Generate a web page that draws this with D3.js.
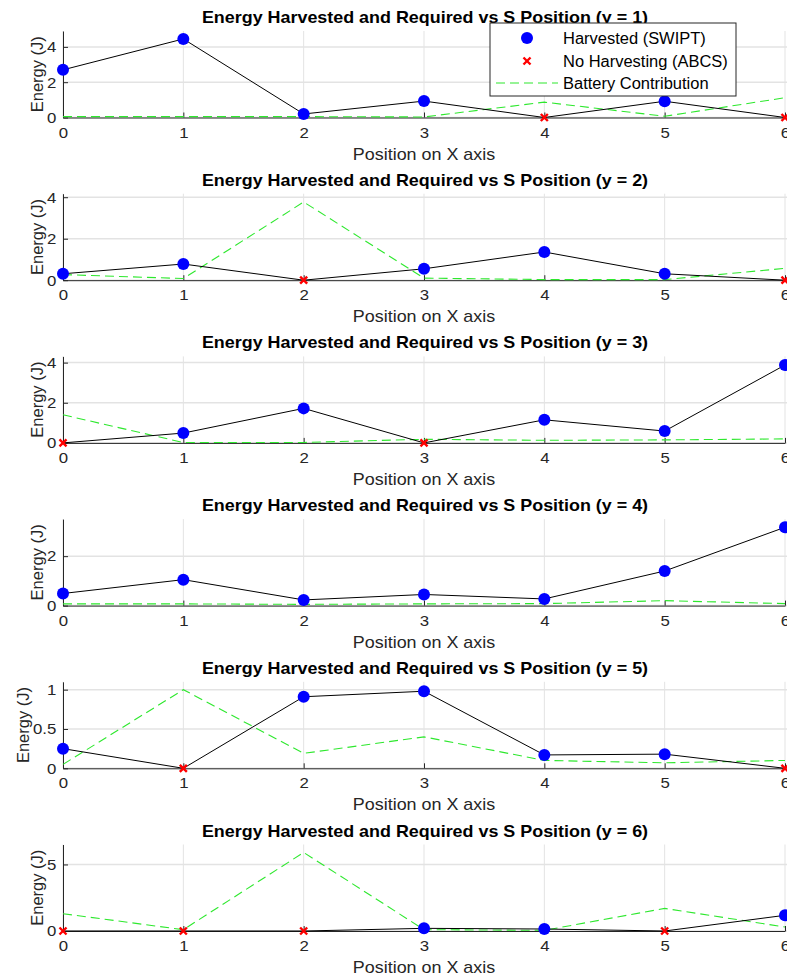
<!DOCTYPE html>
<html>
<head>
<meta charset="utf-8">
<script src="https://cdn.jsdelivr.net/npm/d3@7"></script>
<style>
  body { margin: 0; background: #fff; }
  svg { display: block; font-family: "Liberation Sans", Arial, sans-serif; }
</style>
</head>
<body>
<div id="chart"></div>
<script>
// x positions of the S node, one panel per y row
const xPositions = [0, 1, 2, 3, 4, 5, 6];
const rowLabels = [1, 2, 3, 4, 5, 6];

// energy harvested (SWIPT); a 0 means no harvesting (ABCS)
const harvested = [
  [2.7, 4.45, 0.2, 0.93, 0, 0.92, 0],
  [0.31, 0.78, 0, 0.55, 1.36, 0.31, 0],
  [0, 0.49, 1.72, 0, 1.15, 0.59, 3.88],
  [0.49, 1.05, 0.23, 0.45, 0.27, 1.4, 3.17],
  [0.25, 0, 0.91, 0.98, 0.17, 0.18, 0],
  [0, 0, 0, 0.2, 0.15, 0, 1.18]
];

// battery contribution
const battery = [
  [0.05, 0.05, 0.05, 0.03, 0.87, 0.07, 1.12],
  [0.27, 0.08, 3.77, 0.1, 0.03, 0.03, 0.57],
  [1.4, 0.02, 0.02, 0.18, 0.13, 0.15, 0.2],
  [0.07, 0.07, 0.05, 0.07, 0.08, 0.2, 0.08],
  [0.05, 1.0, 0.19, 0.4, 0.1, 0.07, 0.1],
  [1.3, 0.1, 5.9, 0.1, 0.05, 1.7, 0.3]
];

// y axis upper limits and tick labels per panel
const yMax = [4.9, 4.17, 4.31, 3.5, 1.1, 6.5];
const yTicks = [[0, 2, 4], [0, 2, 4], [0, 2, 4], [0, 2], [0, 0.5, 1], [0, 5]];

const legendLabels = ["Harvested (SWIPT)", "No Harvesting (ABCS)", "Battery Contribution"];

const W = 787, H = 975;
const left = 63, right = 785;
const firstTop = 31, step = 162.7, plotH = 86.5;
const textColor = "#262626";
const green = "#2ee82e";
const stretch = "scale(1.12,1)"; // horizontal text in the reference is a bit wide

const svg = d3.select("#chart").append("svg")
  .attr("width", W)
  .attr("height", H);

const x = d3.scaleLinear().domain([0, 6]).range([left, right]);
const cross = d3.symbol().type(d3.symbolX).size(34);

rowLabels.forEach((row, i) => {
  const top = firstTop + i * step;
  const bottom = top + plotH;
  const y = d3.scaleLinear().domain([0, yMax[i]]).range([bottom, top]);

  const g = svg.append("g").attr("class", "panel");

  // grid
  g.selectAll(".vgrid")
    .data(xPositions)
    .enter()
    .append("line")
    .attr("x1", d => x(d)).attr("x2", d => x(d))
    .attr("y1", top).attr("y2", bottom)
    .attr("stroke", "#e3e3e3").attr("stroke-width", 1);

  g.selectAll(".hgrid")
    .data(yTicks[i])
    .enter()
    .append("line")
    .attr("x1", left).attr("x2", W)
    .attr("y1", d => y(d)).attr("y2", d => y(d))
    .attr("stroke", "#e3e3e3").attr("stroke-width", 1.5);

  // axes
  const xAxis = g.append("g")
    .attr("transform", `translate(0,${bottom})`)
    .call(d3.axisBottom(x).tickValues(xPositions).tickFormat(d3.format("d")).tickSizeInner(-5).tickSizeOuter(0).tickPadding(9.5));
  const yAxis = g.append("g")
    .attr("transform", `translate(${left},0)`)
    .call(d3.axisLeft(y).tickValues(yTicks[i]).tickFormat(d => String(d)).tickSizeInner(-5).tickSizeOuter(0).tickPadding(6));

  [xAxis, yAxis].forEach(a => {
    a.select(".domain").attr("stroke", textColor).attr("stroke-width", 1);
    a.selectAll(".tick line").attr("stroke", textColor);
    a.selectAll(".tick text")
      .attr("fill", textColor)
      .attr("transform", stretch)
      .style("font-size", "15px");
  });

  // battery contribution (green dashed)
  g.append("path")
    .datum(battery[i])
    .attr("fill", "none")
    .attr("stroke", green)
    .attr("stroke-width", 1.1)
    .attr("stroke-dasharray", "9,5")
    .attr("d", d3.line().x((d, j) => x(xPositions[j])).y(d => y(d)));

  // harvested line
  g.append("path")
    .datum(harvested[i])
    .attr("fill", "none")
    .attr("stroke", "#000")
    .attr("stroke-width", 1)
    .attr("d", d3.line().x((d, j) => x(xPositions[j])).y(d => y(d)));

  const pts = harvested[i].map((v, j) => ({x: xPositions[j], v: v}));

  g.selectAll(".dot")
    .data(pts.filter(d => d.v > 0))
    .enter()
    .append("circle")
    .attr("cx", d => x(d.x))
    .attr("cy", d => y(d.v))
    .attr("r", 6)
    .attr("fill", "#0000ff");

  g.selectAll(".nox")
    .data(pts.filter(d => d.v === 0))
    .enter()
    .append("path")
    .attr("d", cross)
    .attr("transform", d => `translate(${x(d.x)},${y(0)})`)
    .attr("fill", "#ff0000")
    .attr("stroke", "#ff0000")
    .attr("stroke-width", 2.4);

  // labels
  g.append("text")
    .attr("transform", `translate(425,${top - 8}) ${stretch}`)
    .attr("text-anchor", "middle")
    .attr("font-weight", "bold")
    .attr("font-size", "16px")
    .attr("fill", "#000")
    .text(`Energy Harvested and Required vs S Position (y = ${row})`);

  g.append("text")
    .attr("transform", `translate(424,${bottom + 42}) ${stretch}`)
    .attr("text-anchor", "middle")
    .attr("font-size", "16px")
    .attr("fill", textColor)
    .text("Position on X axis");

  // y label sits left of the widest tick label
  let tickLeft = left;
  yAxis.selectAll(".tick text").each(function() {
    const b = this.getBoundingClientRect();
    tickLeft = Math.min(tickLeft, b.left);
  });
  g.append("text")
    .attr("transform", `translate(${tickLeft - 4},${(top + bottom) / 2}) rotate(-90)`)
    .attr("text-anchor", "middle")
    .attr("font-size", "16.5px")
    .attr("fill", textColor)
    .text("Energy (J)");
});

// legend in the first panel
const legend = svg.append("g").attr("transform", "translate(490,23)");
legend.append("rect")
  .attr("width", 246).attr("height", 73)
  .attr("fill", "#fff")
  .attr("stroke", textColor).attr("stroke-width", 1);

const rowsY = [15, 38, 60];
legend.append("circle")
  .attr("cx", 37).attr("cy", rowsY[0]).attr("r", 6).attr("fill", "#0000ff");
legend.append("path")
  .attr("d", cross)
  .attr("transform", `translate(37,${rowsY[1]})`)
  .attr("fill", "#ff0000").attr("stroke", "#ff0000").attr("stroke-width", 2.4);
legend.append("line")
  .attr("x1", 6).attr("x2", 68)
  .attr("y1", rowsY[2]).attr("y2", rowsY[2])
  .attr("stroke", green).attr("stroke-width", 1.1).attr("stroke-dasharray", "9,5");

legend.selectAll(".lt")
  .data(legendLabels)
  .enter()
  .append("text")
  .attr("transform", (d, i) => `translate(73,${rowsY[i] + 5.5}) scale(1.03,1)`)
  .attr("font-size", "16px")
  .attr("fill", "#000")
  .text(d => d);
</script>
</body>
</html>
